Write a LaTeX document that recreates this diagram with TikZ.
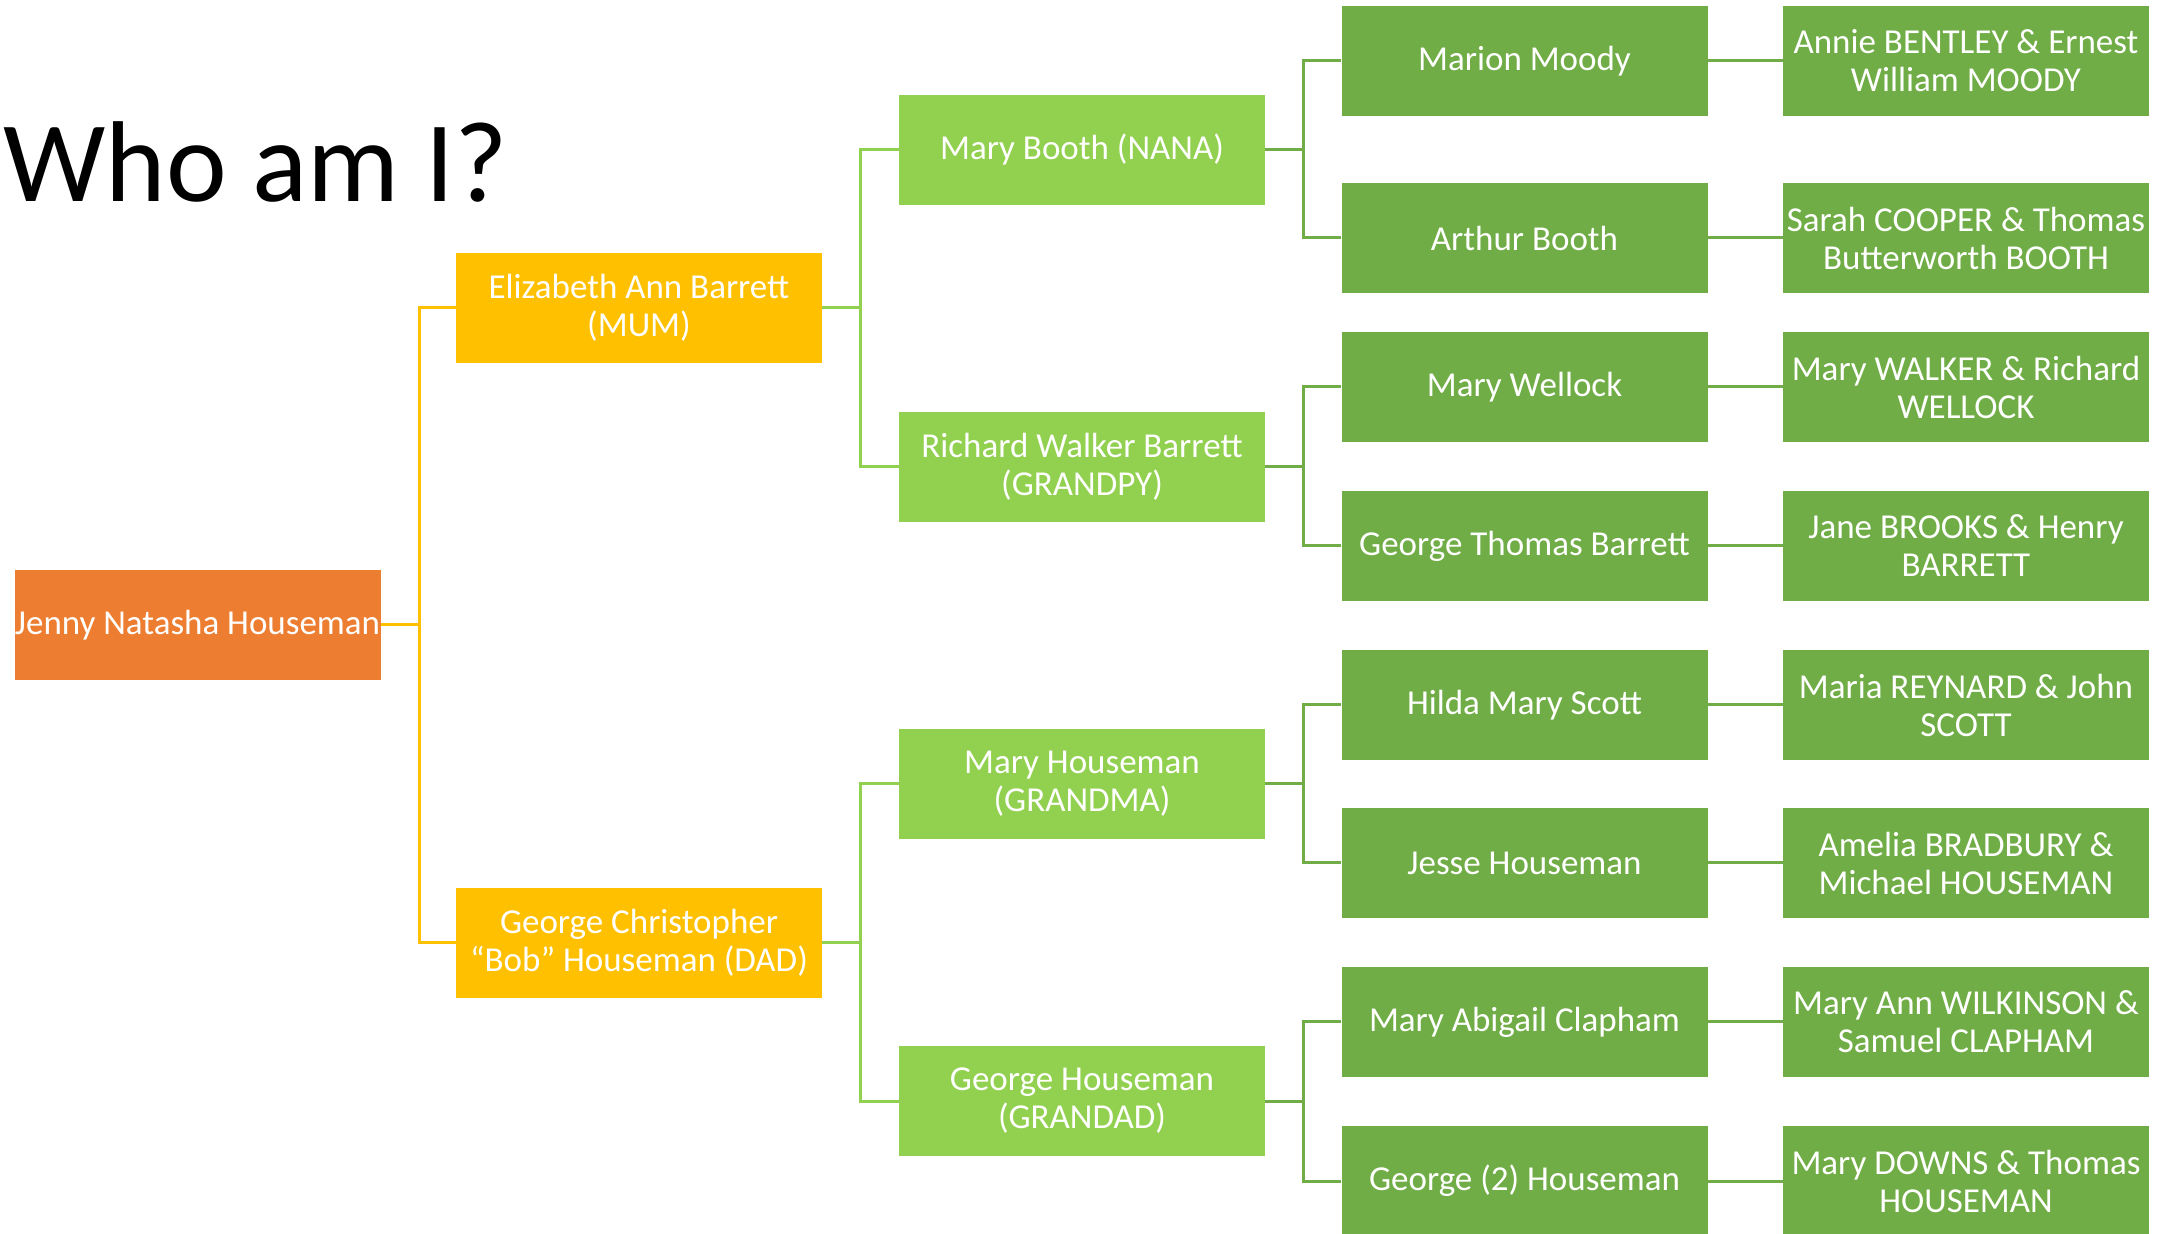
\documentclass[tikz,border=0pt]{standalone}
\usepackage{fontspec}
\setmainfont{Carlito}
\definecolor{cOrange}{HTML}{ED7D31}
\definecolor{cGold}{HTML}{FFC000}
\definecolor{cLight}{HTML}{92D050}
\definecolor{cDark}{HTML}{70AD47}
\begin{document}
\begin{tikzpicture}[x=0.5pt,y=-0.5pt,
  box/.style={rectangle, inner sep=0pt, minimum width=183pt, minimum height=55pt,
    text=white, align=center, font=\fontsize{17.5}{19}\selectfont},
  selfbox/.style={box, fill=cOrange},
  parbox/.style={box, fill=cGold},
  gpbox/.style={box, fill=cLight},
  ggbox/.style={box, fill=cDark},
  goldline/.style={draw=cGold, line width=1.5pt},
  lightline/.style={draw=cLight, line width=1.5pt},
  darkline/.style={draw=cDark, line width=1.5pt}]
\useasboundingbox (0,0) rectangle (2170,1234);

\node[anchor=base west, inner sep=0pt, font=\fontsize{57.5}{60}\selectfont] (title) at (3,202) {Who am I?};

% generation 1
\node[selfbox] (j) at (197.5,625) {Jenny Natasha Houseman};
% generation 2
\node[parbox] (e) at (639,308) {Elizabeth Ann Barrett\\(MUM)};
\node[parbox] (g) at (639,943) {George Christopher\\“Bob” Houseman (DAD)};
% generation 3
\node[gpbox] (mb) at (1082,150) {Mary Booth (NANA)};
\node[gpbox] (rw) at (1082,467) {Richard Walker Barrett\\(GRANDPY)};
\node[gpbox] (mh) at (1082,784) {Mary Houseman\\(GRANDMA)};
\node[gpbox] (gh) at (1082,1101) {George Houseman\\(GRANDAD)};
% generation 4
\node[ggbox] (a1) at (1524.5,61) {Marion Moody};
\node[ggbox] (a2) at (1524.5,238) {Arthur Booth};
\node[ggbox] (a3) at (1524.5,387) {Mary Wellock};
\node[ggbox] (a4) at (1524.5,546) {George Thomas Barrett};
\node[ggbox] (a5) at (1524.5,705) {Hilda Mary Scott};
\node[ggbox] (a6) at (1524.5,863) {Jesse Houseman};
\node[ggbox] (a7) at (1524.5,1022) {Mary Abigail Clapham};
\node[ggbox] (a8) at (1524.5,1181) {George (2) Houseman};
% generation 5
\node[ggbox] (b1) at (1966,61) {Annie BENTLEY \& Ernest\\William MOODY};
\node[ggbox] (b2) at (1966,238) {Sarah COOPER \& Thomas\\Butterworth BOOTH};
\node[ggbox] (b3) at (1966,387) {Mary WALKER \& Richard\\WELLOCK};
\node[ggbox] (b4) at (1966,546) {Jane BROOKS \& Henry\\BARRETT};
\node[ggbox] (b5) at (1966,705) {Maria REYNARD \& John\\SCOTT};
\node[ggbox] (b6) at (1966,863) {Amelia BRADBURY \&\\Michael HOUSEMAN};
\node[ggbox] (b7) at (1966,1022) {Mary Ann WILKINSON \&\\Samuel CLAPHAM};
\node[ggbox] (b8) at (1966,1181) {Mary DOWNS \& Thomas\\HOUSEMAN};

\coordinate (v1) at (419,0);
\coordinate (v2) at (860,0);
\coordinate (v3) at (1303,0);

% connectors gen1 -> gen2
\draw[goldline] (j.east) -- (j.east -| v1) |- (e.west);
\draw[goldline] (j.east -| v1) |- (g.west);
% gen2 -> gen3
\draw[lightline] (e.east) -- (e.east -| v2) |- (mb.west);
\draw[lightline] (e.east -| v2) |- (rw.west);
\draw[lightline] (g.east) -- (g.east -| v2) |- (mh.west);
\draw[lightline] (g.east -| v2) |- (gh.west);
% gen3 -> gen4
\draw[darkline] (mb.east) -- (mb.east -| v3) |- (a1.west);
\draw[darkline] (mb.east -| v3) |- (a2.west);
\draw[darkline] (rw.east) -- (rw.east -| v3) |- (a3.west);
\draw[darkline] (rw.east -| v3) |- (a4.west);
\draw[darkline] (mh.east) -- (mh.east -| v3) |- (a5.west);
\draw[darkline] (mh.east -| v3) |- (a6.west);
\draw[darkline] (gh.east) -- (gh.east -| v3) |- (a7.west);
\draw[darkline] (gh.east -| v3) |- (a8.west);
% gen4 -> gen5
\draw[darkline] (a1.east) -- (b1.west);
\draw[darkline] (a2.east) -- (b2.west);
\draw[darkline] (a3.east) -- (b3.west);
\draw[darkline] (a4.east) -- (b4.west);
\draw[darkline] (a5.east) -- (b5.west);
\draw[darkline] (a6.east) -- (b6.west);
\draw[darkline] (a7.east) -- (b7.west);
\draw[darkline] (a8.east) -- (b8.west);
\end{tikzpicture}
\end{document}
